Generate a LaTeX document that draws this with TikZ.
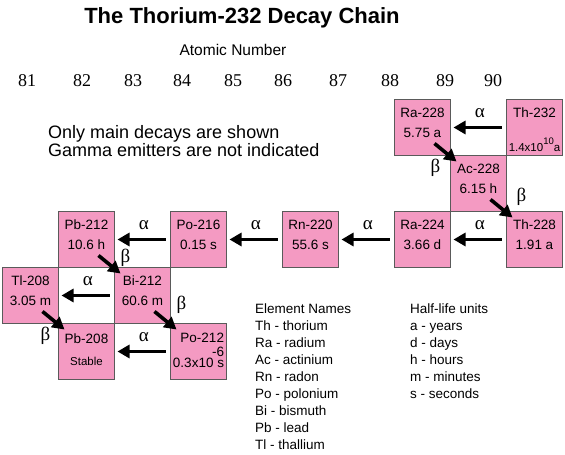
\documentclass[tikz,border=0pt]{standalone}
\usepackage{fontspec}
\setmainfont{Liberation Sans}
\newfontfamily\greekfont{Liberation Serif}
\usetikzlibrary{positioning, arrows.meta}
\definecolor{nucpink}{RGB}{244,154,194}
\definecolor{nucedge}{RGB}{90,90,90}

\tikzset{
  nuc/.style={draw=nucedge, fill=nucpink, line width=0.8pt, minimum size=56pt,
    inner sep=0pt, outer sep=0pt, align=center, font=\fontsize{13.5}{20}\selectfont},
  lift/.style={execute at end node={\rule[-#1]{0pt}{#1}}},
  lift/.default=10pt,
  decay/.style={-{Triangle[length=12pt,width=13pt]}, line width=3.6pt},
  alab/.style={font=\greekfont\fontsize{19}{19}\selectfont, inner sep=0pt, above=8pt},
  blab/.style={font=\greekfont\fontsize{19}{19}\selectfont, inner sep=0pt},
  znum/.style={font=\greekfont\fontsize{18}{18}\selectfont, inner sep=0pt},
}

\begin{document}
\begin{tikzpicture}[x=1pt, y=1pt, node distance=0pt]
  \useasboundingbox (0,0) rectangle (565,455);

  % headings
  \node[font=\bfseries\fontsize{22}{22}\selectfont] (title) at (242,437) {The Thorium-232 Decay Chain};
  \node[font=\fontsize{15.5}{16}\selectfont] (axis) at (233,405) {Atomic Number};
  \foreach \z/\x in {81/27,82/82,83/133,84/182,85/233,86/283,87/338,88/390,89/445,90/493}
    \node[znum] (z\z) at (\x,374) {\z};

  % nuclides
  \node[nuc] (Th232) at (534.5,327.5) {\rule{0pt}{14pt}Th-232\\[14pt]{\fontsize{11.5}{12}\selectfont 1.4x10\raisebox{7pt}{\fontsize{9.5}{10}\selectfont 10}a}};
  \node[nuc, lift] (Ra228) [left=56pt of Th232] {Ra-228\\5.75 a};
  \node[nuc, lift] (Ac228) [below right=of Ra228] {Ac-228\\6.15 h};
  \node[nuc, lift] (Th228) [below right=of Ac228] {Th-228\\1.91 a};
  \node[nuc, lift] (Ra224) [left=56pt of Th228] {Ra-224\\3.66 d};
  \node[nuc, lift] (Rn220) [left=56pt of Ra224] {Rn-220\\55.6 s};
  \node[nuc, lift] (Po216) [left=56pt of Rn220] {Po-216\\0.15 s};
  \node[nuc, lift] (Pb212) [left=56pt of Po216] {Pb-212\\10.6 h};
  \node[nuc, lift] (Bi212) [below right=of Pb212] {Bi-212\\60.6 m};
  \node[nuc, lift] (Tl208) [left=56pt of Bi212] {Tl-208\\3.05 m};
  \node[nuc, lift=4pt] (Pb208) [below right=of Tl208] {Pb-208\\[2pt]{\fontsize{11.5}{12}\selectfont Stable}};
  \node[nuc, lift=2pt, align=right] (Po212) [below right=of Bi212] {Po-212\\[-6pt]-6\\[-9pt]0.3x10 s};

  % alpha decays
  \draw[decay] ([xshift=-5pt]Th232.west) -- ([xshift=3pt]Ra228.east) node[alab, pos=0.45] {α};
  \draw[decay] ([xshift=-5pt]Th228.west) -- ([xshift=3pt]Ra224.east) node[alab, pos=0.45] {α};
  \draw[decay] ([xshift=-5pt]Ra224.west) -- ([xshift=3pt]Rn220.east) node[alab, pos=0.45] {α};
  \draw[decay] ([xshift=-5pt]Rn220.west) -- ([xshift=3pt]Po216.east) node[alab, pos=0.45] {α};
  \draw[decay] ([xshift=-5pt]Po216.west) -- ([xshift=3pt]Pb212.east) node[alab, pos=0.45] {α};
  \draw[decay] ([xshift=-5pt]Bi212.west) -- ([xshift=3pt]Tl208.east) node[alab, pos=0.45] {α};
  \draw[decay] ([xshift=-5pt]Po212.west) -- ([xshift=3pt]Pb208.east) node[alab, pos=0.45] {α};

  % beta decays
  \draw[decay] ([shift={(-16pt,12pt)}]Ra228.south east) -- ([shift={(6pt,-6pt)}]Ac228.north west);
  \draw[decay] ([shift={(-16pt,12pt)}]Ac228.south east) -- ([shift={(6pt,-6pt)}]Th228.north west);
  \draw[decay] ([shift={(-16pt,12pt)}]Pb212.south east) -- ([shift={(6pt,-6pt)}]Bi212.north west);
  \draw[decay] ([shift={(-16pt,12pt)}]Tl208.south east) -- ([shift={(6pt,-6pt)}]Pb208.north west);
  \draw[decay] ([shift={(-16pt,12pt)}]Bi212.south east) -- ([shift={(6pt,-6pt)}]Po212.north west);
  \node[blab] (b1) at ([shift={(-15pt,-12pt)}]Ra228.south east) {β};
  \node[blab] (b2) at ([shift={(15pt,15pt)}]Ac228.south east) {β};
  \node[blab] (b3) at ([shift={(11pt,10pt)}]Pb212.south east) {β};
  \node[blab] (b4) at ([shift={(-13pt,-12pt)}]Tl208.south east) {β};
  \node[blab] (b5) at ([shift={(11pt,19pt)}]Bi212.south east) {β};

  % notes and legend
  \node[anchor=west, align=left, inner sep=0pt, font=\fontsize{18}{18}\selectfont] (note) at (48,314)
    {Only main decays are shown\\Gamma emitters are not indicated};
  \node[anchor=north west, align=left, inner sep=0pt, font=\fontsize{13.5}{16.9}\selectfont] (names) at (255,151)
    {Element Names\\Th - thorium\\Ra - radium\\Ac - actinium\\Rn - radon\\Po - polonium\\Bi - bismuth\\Pb - lead\\Tl - thallium};
  \node[anchor=north west, align=left, inner sep=0pt, font=\fontsize{13.5}{16.9}\selectfont] (units) at (410,151)
    {Half-life units\\a - years\\d - days\\h - hours\\m - minutes\\s - seconds};
\end{tikzpicture}
\end{document}
